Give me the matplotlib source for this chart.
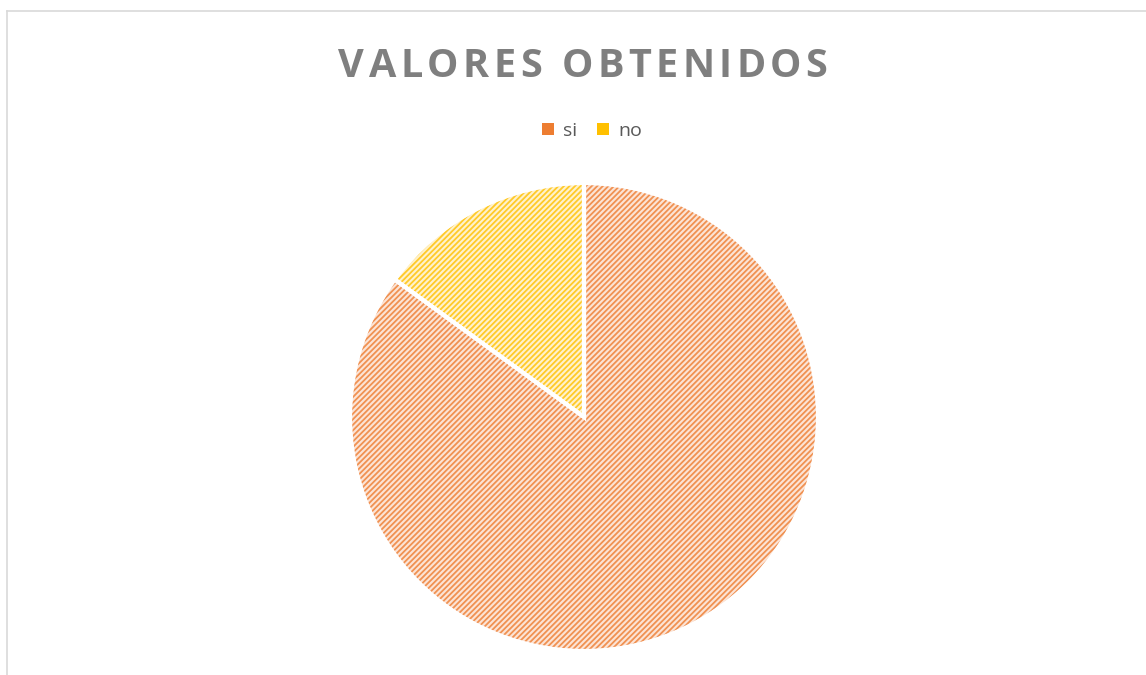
import matplotlib.pyplot as plt
from matplotlib.patches import Patch, Wedge
from matplotlib.lines import Line2D
from matplotlib.colors import to_rgba

labels = ["si", "no"]
values = [85, 15]
colors = ["#ED7D31", "#FFC000"]
light = ["#FCE4D6", "#FFF2CC"]
title = "VALORES OBTENIDOS"

plt.rcParams['hatch.linewidth'] = 1.3

fig = plt.figure(figsize=(11.46, 6.75), dpi=100)
W, H = 1146, 675

# chart frame (light gray, top and left visible)
fig.add_artist(Line2D([7/W, 1], [1-11/H, 1-11/H], color="#d9d9d9", lw=1.2))
fig.add_artist(Line2D([7/W, 7/W], [0, 1-11/H], color="#d9d9d9", lw=1.2))

ax = fig.add_axes([350/W, 24/H, 468/W, 468/H])
wedges, _ = ax.pie(values, startangle=90, counterclock=False, radius=1,
                   wedgeprops=dict(edgecolor="white", linewidth=2.5))
for w, c, lc in zip(wedges, colors, light):
    w.set_facecolor(lc)
    w.set_hatch("//////")
    w._hatch_color = to_rgba(c, 0.8)
# redraw white edges on top
for w in wedges:
    ax.add_patch(Wedge(w.center, w.r, w.theta1, w.theta2,
                       fill=False, edgecolor="white", linewidth=3))
ax.set_xlim(-1.0, 1.0)
ax.set_ylim(-1.0, 1.0)
ax.set_aspect("equal")
ax.axis("off")

# title with letter spacing: place characters one by one
target_w = 489
renderer = fig.canvas.get_renderer()
chars = []
for ch in title:
    t = fig.text(0, 1-62/H, ch, ha="left", va="center_baseline", fontsize=28.5,
                 fontweight="bold", color="#7f7f7f", family="Open Sans")
    chars.append(t)
widths = []
for ch, t in zip(title, chars):
    if ch == " ":
        widths.append(11.0)
    else:
        widths.append(t.get_window_extent(renderer).width)
track = (target_w - sum(widths)) / (len(title) - 1)
x = 583 - target_w / 2
for t, wd in zip(chars, widths):
    t.set_x(x / W)
    x += wd + track

handles = [Patch(facecolor=c, edgecolor="none") for c in colors]
fig.legend(handles, labels, loc="center", bbox_to_anchor=(592/W, 1-131/H), ncol=2,
           frameon=False, handlelength=0.6, handleheight=0.6,
           handletextpad=0.5, columnspacing=1.0, labelcolor="#595959",
           prop={"family": "Open Sans", "size": 14})

fig.savefig("out.png", dpi=100)
